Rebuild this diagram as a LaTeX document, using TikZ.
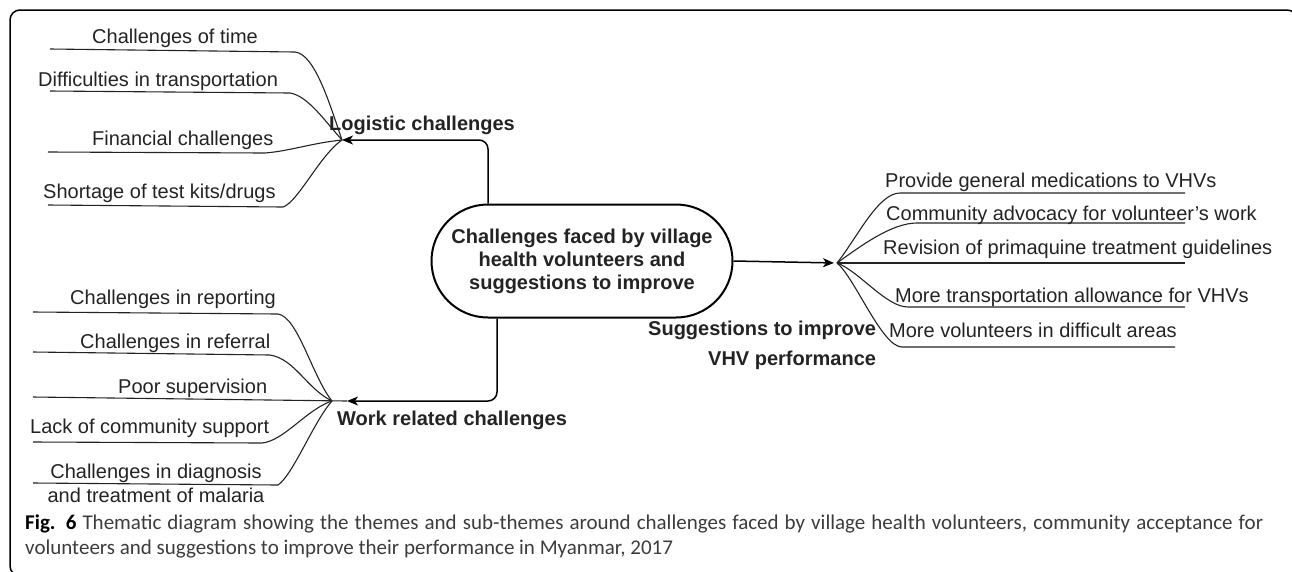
\documentclass[tikz,border=0pt]{standalone}
\usepackage{fontspec}
\setmainfont{Liberation Sans}
\newfontfamily\capfont{Carlito}
\usetikzlibrary{arrows.meta,shapes.misc}
\definecolor{inkgray}{RGB}{35,35,35}
\definecolor{capgray}{RGB}{60,60,60}

\begin{document}
\begin{tikzpicture}
        [x=1pt, y=-1pt,
        leaf/.style={anchor=base west, inner sep=0pt, font=\fontsize{20}{24}\selectfont, text=inkgray},
        theme/.style={anchor=base west, inner sep=0pt, font=\fontsize{20}{24}\selectfont\bfseries, text=inkgray},
        hub/.style={rounded rectangle, draw, line width=2pt, minimum width=301pt, minimum height=113pt,
            inner sep=0pt, align=center, font=\fontsize{20}{23}\selectfont\bfseries, text=inkgray},
        branch/.style={line width=1.1pt, inkgray},
        conn/.style={line width=1.5pt, black, rounded corners=9pt, -{Stealth[length=11pt,width=9pt,inset=3pt]}}]
        \useasboundingbox (0,0) rectangle (1292,571);
        \draw[line width=1.5pt, rounded corners=10pt] (10,10) rectangle (1297,576);

        \node[hub] (ctr) at (582,261) {Challenges faced by village\\health volunteers and\\suggestions to improve};

        % hubs of the three themes
        \coordinate (lp) at (342,140);
        \coordinate (wp) at (332,401);
        \coordinate (wtip) at (347,401);
        \coordinate (sp) at (837,263);

        \node[theme] (logi) at (329,130) {Logistic challenges};
        \node[theme] (work) at (337,425) {Work related challenges};
        \node[theme] (sugg) at (648,335) {Suggestions to improve};
        \node[theme] (vhv) at (708,365) {VHV performance};

        \draw[conn] ([xshift=-94pt]ctr.north) |- (lp);
        \draw[conn] ([xshift=-85pt]ctr.south) |- (wtip);
        \draw[conn, shorten >=3pt] (ctr.east) -- (sp);

        % logistic challenges
        \node[leaf] (l1) at (92,43) {Challenges of time};
        \node[leaf] (l2) at (38,86) {Difficulties in transportation};
        \node[leaf] (l3) at (92,145) {Financial challenges};
        \node[leaf] (l4) at (43,198) {Shortage of test kits/drugs};
        \coordinate (a1) at (50,49);  \coordinate (b1) at (295,52);
        \coordinate (a2) at (50,91);  \coordinate (b2) at (290,93);
        \coordinate (a3) at (48,152); \coordinate (b3) at (265,153);
        \coordinate (a4) at (48,205); \coordinate (b4) at (283,207);
        \draw[branch] (a1) -- (b1) .. controls +(20,2) and +(-12,-35) .. (lp);
        \draw[branch] (a2) -- (b2) .. controls +(18,3) and +(-18,-20) .. (lp);
        \draw[branch] (a3) -- (b3) .. controls +(25,-2) and +(-30,3) .. (lp);
        \draw[branch] (a4) -- (b4) .. controls +(15,-5) and +(-22,15) .. (lp);

        % work related challenges
        \node[leaf] (w1) at (70,304) {Challenges in reporting};
        \node[leaf] (w2) at (80,348) {Challenges in referral};
        \node[leaf] (w3) at (118,393) {Poor supervision};
        \node[leaf] (w4) at (30,433) {Lack of community support};
        \node[leaf, anchor=center, align=center] (w5) at (156,483) {Challenges in diagnosis\\and treatment of malaria};
        \coordinate (a5) at (33,312); \coordinate (b5) at (278,314);
        \coordinate (a6) at (33,352); \coordinate (b6) at (270,355);
        \coordinate (a7) at (33,397);
        \coordinate (a8) at (33,442); \coordinate (b8) at (262,443);
        \coordinate (a9) at (33,483); \coordinate (b9) at (278,485);
        \draw[branch] (a5) -- (b5) .. controls +(20,3) and +(-20,-25) .. (wp);
        \draw[branch] (a6) -- (b6) .. controls +(25,4) and +(-25,-12) .. (wp);
        \draw[branch] (a7) -- (wtip);
        \draw[branch] (a8) -- (b8) .. controls +(22,-2) and +(-25,8) .. (wp);
        \draw[branch] (a9) -- (b9) .. controls +(15,-10) and +(-18,20) .. (wp);

        % suggestions
        \node[leaf] (s1) at (885,187) {Provide general medications to VHVs};
        \node[leaf] (s2) at (886,220) {Community advocacy for volunteer's work};
        \node[leaf] (s3) at (883,254) {Revision of primaquine treatment guidelines};
        \node[leaf] (s4) at (895,302) {More transportation allowance for VHVs};
        \node[leaf] (s5) at (889,337) {More volunteers in difficult areas};
        \coordinate (c1) at (900,193); \coordinate (d1) at (1185,193);
        \coordinate (c2) at (917,223); \coordinate (d2) at (1185,223);
        \coordinate (d3) at (1185,263);
        \coordinate (c4) at (908,307); \coordinate (d4) at (1185,307);
        \coordinate (c5) at (902,347); \coordinate (d5) at (1175,347);
        \draw[branch] (sp) .. controls +(20,-25) and +(-22,0) .. (c1) -- (d1);
        \draw[branch] (sp) .. controls +(25,-18) and +(-25,0) .. (c2) -- (d2);
        \draw[branch] (sp) -- (d3);
        \draw[branch] (sp) .. controls +(22,8) and +(-22,0) .. (c4) -- (d4);
        \draw[branch] (sp) .. controls +(18,15) and +(-20,0) .. (c5) -- (d5);

        \node[anchor=north west, inner sep=0pt, text width=1238pt, align=justify, text=capgray,
            font=\capfont\fontsize{21}{24.5}\selectfont] (cap) at (25,515)
            {\textbf{\color{black}Fig. 6} Thematic diagram showing the themes and sub-themes around challenges faced by village health volunteers, community acceptance for volunteers and suggestions to improve their performance in Myanmar, 2017};
    \end{tikzpicture}
\end{document}
